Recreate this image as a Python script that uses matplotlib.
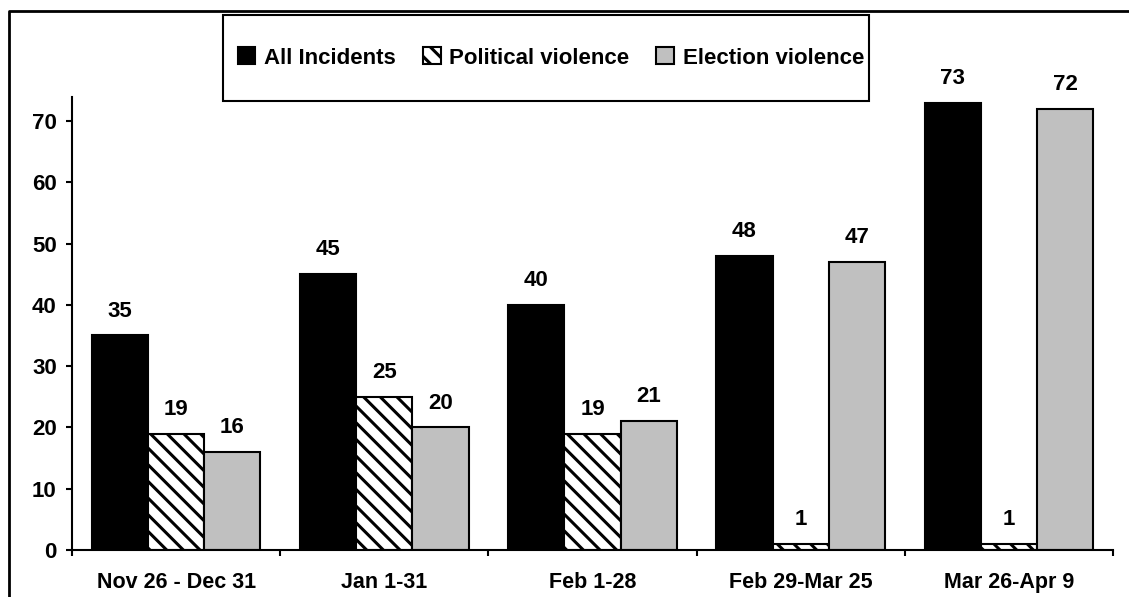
import matplotlib
matplotlib.use("Agg")
import matplotlib.pyplot as plt
import numpy as np
from matplotlib.lines import Line2D
from matplotlib.patches import Rectangle

plt.rcParams['font.family'] = ['Liberation Sans', 'DejaVu Sans']
plt.rcParams['font.weight'] = 'bold'
plt.rcParams['hatch.linewidth'] = 2.2

periods = ['Nov 26 - Dec 31', 'Jan 1-31', 'Feb 1-28', 'Feb 29-Mar 25', 'Mar 26-Apr 9']
all_incidents = [35, 45, 40, 48, 73]
political = [19, 25, 19, 1, 1]
election = [16, 20, 21, 47, 72]
series_names = ['All Incidents', 'Political violence', 'Election violence']

W, H = 1129, 597
fig = plt.figure(figsize=(W / 100, H / 100), dpi=100)
ax = fig.add_axes([72 / W, (H - 550) / H, (1113 - 72) / W, (550 - 97) / H])

x = np.arange(len(periods))
bw = 0.27
styles = [dict(color='black', hatch=None),
          dict(color='white', hatch='\\\\'),
          dict(color='#c0c0c0', hatch=None)]
for i, (vals, name, st) in enumerate(zip([all_incidents, political, election], series_names, styles)):
    bars = ax.bar(x + (i - 1) * bw, vals, bw, color=st['color'], hatch=st['hatch'],
                  edgecolor='black', linewidth=1.5, label=name)
    for b, v in zip(bars, vals):
        ax.annotate(str(v), (b.get_x() + b.get_width() / 2, v), xytext=(0, 10),
                    textcoords='offset points', ha='center', va='bottom',
                    fontsize=16, fontweight='bold')

ax.set_xlim(-0.5, len(periods) - 0.5)
ax.set_ylim(0, 73.9)
ax.set_yticks(range(0, 80, 10))
ax.set_xticks(np.arange(len(periods) + 1) - 0.5)
ax.set_xticklabels([])
ax.set_xticks(x, minor=True)
ax.set_xticklabels(periods, minor=True)
ax.tick_params(axis='x', which='major', direction='out', length=4, width=1.5)
ax.tick_params(axis='x', which='minor', length=0, pad=16, labelsize=15.5)
ax.tick_params(axis='y', direction='out', length=4, width=1.5, pad=7, labelsize=16)
for lab in ax.get_xticklabels(minor=True) + ax.get_yticklabels():
    lab.set_fontweight('bold')
for s in ['top', 'right']:
    ax.spines[s].set_visible(False)
for s in ['left', 'bottom']:
    ax.spines[s].set_linewidth(1.5)

# legend box drawn separately (wide, short side padding)
fig.add_artist(Rectangle((223 / W, 1 - 101 / H), (869 - 223) / W, 86 / H,
                         transform=fig.transFigure, facecolor='white',
                         edgecolor='black', linewidth=1.5))
leg = fig.legend(loc='center', bbox_to_anchor=(551 / W, 1 - 58 / H), ncol=3,
                 frameon=False, prop={'size': 16, 'weight': 'bold'},
                 handlelength=0.8, handleheight=0.8, handletextpad=0.4,
                 columnspacing=1.2, borderpad=0, borderaxespad=0)

# outer frame (cropped on right and bottom)
fig.add_artist(Line2D([9 / W, 9 / W, 1.0], [0.0, 1 - 11 / H, 1 - 11 / H],
                      transform=fig.transFigure, color='black', linewidth=2))

fig.savefig('out.png', dpi=100)
